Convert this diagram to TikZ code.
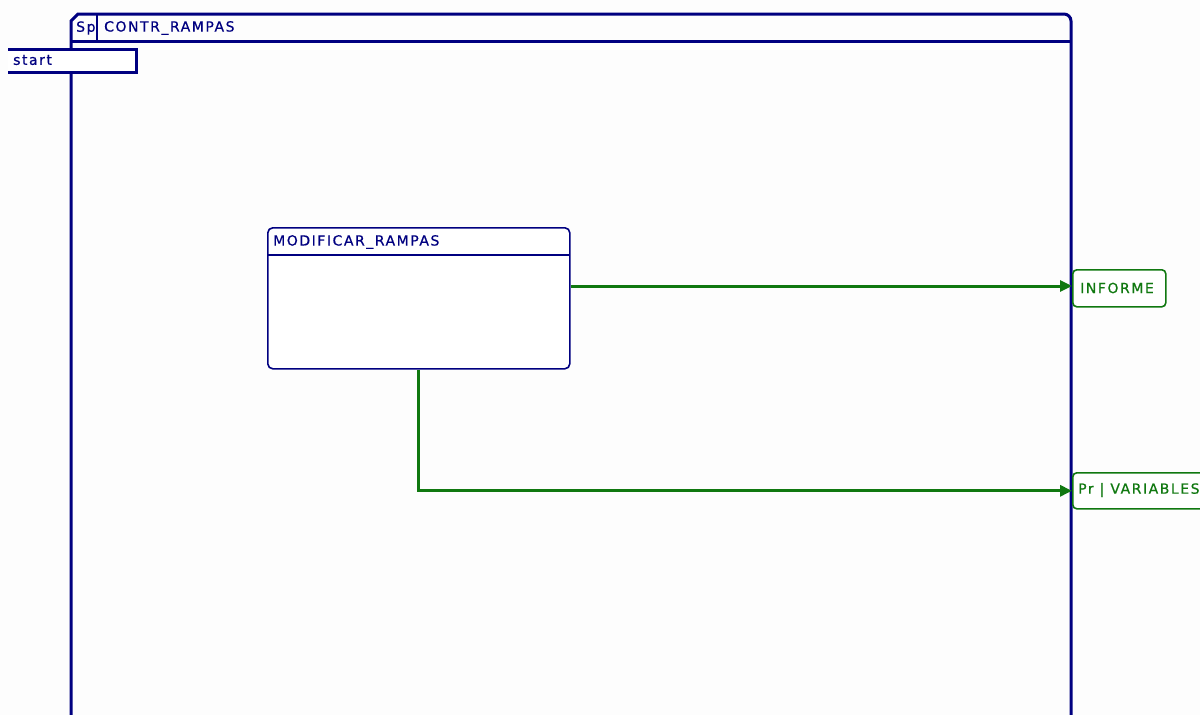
\documentclass[tikz,border=0pt]{standalone}
\usepackage{fontspec}
\setmainfont{DejaVu Sans}
\usetikzlibrary{arrows.meta}
\definecolor{navy}{RGB}{0,0,128}
\definecolor{dgreen}{RGB}{16,120,16}
\definecolor{bg}{RGB}{253,253,253}
\begin{document}
\begin{tikzpicture}[x=1pt,y=-1pt,
  lbl/.style={inner sep=0pt,anchor=west,font=\fontsize{14}{16}\selectfont\addfontfeature{LetterSpace=11,FakeBold=0.6}},
  navylbl/.style={lbl,text=navy},
  greenlbl/.style={lbl,text=dgreen},
  frame/.style={draw=navy,line width=3pt},
  statebox/.style={draw=navy,line width=1.6pt,rounded corners=5pt,fill=white},
  portbox/.style={draw=dgreen,line width=1.6pt,rounded corners=4pt,fill=white},
  flow/.style={draw=dgreen,line width=3pt,-{Triangle[length=12pt,width=11pt]}}]
\useasboundingbox (0,0) rectangle (1200,715);
\clip (0,0) rectangle (1200,715);
\fill[bg] (0,0) rectangle (1200,715);
% outer frame
\draw[frame] (71,716) -- (71,21) -- (78,14) -- (1064,14) to[out=0,in=90] (1071,21) -- (1071,716);
\draw[frame] (71,41) -- (1071,41);
\draw[draw=navy,line width=2.2pt] (97,14) -- (97,41);
\node[navylbl] (sp) at (76,28) {Sp};
\node[navylbl] (title) at (104,28) {CONTR\_RAMPAS};
% start tab
\fill[white] (8,49) rectangle (136,72);
\draw[frame] (8,49) -- (136,49) -- (136,72) -- (8,72);
\node[navylbl] (start) at (13,60) {start};
% state box
\node[statebox,minimum width=302pt,minimum height=141pt,anchor=north west] (mod) at (267,227) {};
\draw[draw=navy,line width=1.6pt] (267,255) -- (569,255);
\node[navylbl] (modl) at (273,242) {MODIFICAR\_RAMPAS};
% ports
\node[portbox,minimum width=93pt,minimum height=37pt,anchor=north west] (inf) at (1072,269) {};
\node[greenlbl] (infl) at (1080,288) {INFORME};
\node[portbox,minimum width=160pt,minimum height=36pt,anchor=north west] (var) at (1072,472) {};
\node[greenlbl] (varl) at (1078,490) {Pr | VARIABLES};
% flows
\draw[flow] (mod.east |- 0,286) -- (inf.west |- 0,286);
\draw[flow] (mod.south) |- (var.west);
\end{tikzpicture}
\end{document}
